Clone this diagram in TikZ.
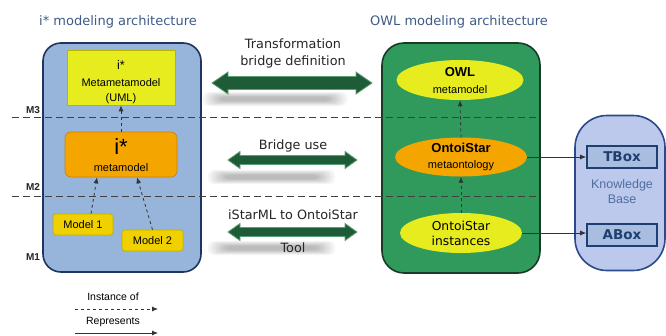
\documentclass[tikz,border=0pt]{standalone}
\usepackage{fontspec}
\setmainfont{Liberation Sans}
\newfontfamily\vfont{DejaVu Sans}
\usetikzlibrary{arrows.meta,shapes.geometric,calc}
\definecolor{boxblue}{HTML}{97B5DB}
\definecolor{navy}{HTML}{1F3560}
\definecolor{lime}{HTML}{E6EC1E}
\definecolor{limeedge}{HTML}{B8B400}
\definecolor{orng}{HTML}{F5A500}
\definecolor{orngedge}{HTML}{C88200}
\definecolor{gold}{HTML}{F0D000}
\definecolor{owlgreen}{HTML}{2F9A5C}
\definecolor{owledge}{HTML}{1A3A28}
\definecolor{kbfill}{HTML}{BCC8EC}
\definecolor{kbedge}{HTML}{2A4A8A}
\definecolor{tbfill}{HTML}{A8BDE0}
\definecolor{tbedge}{HTML}{1F3F70}
\definecolor{titleblue}{HTML}{3E5B88}
\definecolor{kbtext}{HTML}{4F6FA0}
\definecolor{arrgreen}{HTML}{1D5C36}
\definecolor{arredge}{HTML}{5E9E74}
\newcommand\dblarrow[6]{%
  \filldraw[fill=arrgreen, draw=arredge, line width=0.8pt, line join=miter]
    (#1,#3) -- ({#1+#6},{#3-#5}) -- ({#1+#6},{#3-#4}) -- ({#2-#6},{#3-#4})
    -- ({#2-#6},{#3-#5}) -- (#2,#3) -- ({#2-#6},{#3+#5}) -- ({#2-#6},{#3+#4})
    -- ({#1+#6},{#3+#4}) -- ({#1+#6},{#3+#5}) -- cycle;}
\newcommand\shadowbar[4]{%
  \foreach \i in {0,...,7}{
    \fill[black, opacity=0.035, rounded corners=5pt]
      ({#1+\i*2.5},{#3+\i*0.7}) rectangle ({#2-\i*2.5},{#4-\i*0.7});}}
\tikzset{
  titletext/.style={font=\vfont\fontsize{13}{15}\selectfont, text=titleblue},
  bridgetext/.style={font=\vfont\fontsize{12.8}{17}\selectfont, text=black!85, align=center},
  mlabel/.style={font=\bfseries\fontsize{10}{11}\selectfont, text=black!85},
  layerline/.style={draw=black!75, line width=0.9pt, dash pattern=on 7pt off 4pt},
  bigbox/.style={draw, line width=1.6pt, inner sep=0pt},
  modelbox/.style={fill=gold, draw=limeedge, line width=0.6pt, rounded corners=3pt,
    minimum width=60pt, minimum height=21pt, inner sep=0pt,
    font=\fontsize{11}{12}\selectfont},
  instof/.style={dashed, line width=0.8pt, draw=black!80, -{Latex[length=6pt,width=5pt]}},
  repr/.style={line width=0.8pt, draw=black!80, -{Latex[length=6pt,width=5pt]}},
  ell/.style={ellipse, inner sep=0pt, draw=none},
  kbsub/.style={fill=tbfill, draw=tbedge, line width=1.6pt, minimum width=70pt,
    minimum height=22pt, inner sep=0pt, text=tbedge,
    font=\vfont\bfseries\fontsize{13.5}{15}\selectfont},
  legtext/.style={font=\fontsize{10.5}{12}\selectfont}
}
\begin{document}
\begin{tikzpicture}[x=1pt,y=-1pt]
\useasboundingbox (0,0) rectangle (666,335);
\fill[white] (0,0) rectangle (666,335);

% titles
\node[titletext] (t1) at (118,22) {i* modeling architecture};
\node[titletext] (t2) at (459,22) {OWL modeling architecture};

% big boxes
\node[bigbox, draw=navy, fill=boxblue, rounded corners=18pt,
      minimum width=158pt, minimum height=229pt] (ibox) at (122,157.5) {};
\node[bigbox, draw=owledge, fill=owlgreen, rounded corners=22pt,
      minimum width=158pt, minimum height=230pt] (owlbox) at (461,158) {};
\node[bigbox, draw=kbedge, fill=kbfill, rounded corners=32pt,
      minimum width=90pt, minimum height=155pt] (kb) at (620,193) {};

% layer lines
\draw[layerline] (12,117) -- (540,117);
\draw[layerline] (12,196) -- (540,196);
\node[mlabel] (m3) at (33,110) {M3};
\node[mlabel] (m2l) at (33,187) {M2};
\node[mlabel] (m1l) at (33,257) {M1};

% i* side
\node[fill=lime, draw=limeedge, line width=0.6pt, minimum width=108pt,
      minimum height=55pt, inner sep=0pt] (mmm) at (121,77.5) {};
\node[font=\fontsize{12.5}{12}\selectfont] (mmmi) at (121,65) {i*};
\node[font=\fontsize{11}{12}\selectfont] (mmmt) at (121,83) {Metametamodel};
\node[font=\fontsize{11}{12}\selectfont] (mmmu) at (121,98.5) {(UML)};

\node[fill=orng, draw=orngedge, line width=0.6pt, rounded corners=6pt,
      minimum width=112pt, minimum height=45pt, inner sep=0pt] (imm) at (121,154.5) {};
\node[font=\fontsize{22}{22}\selectfont] (immi) at (121,147) {i*};
\node[font=\fontsize{11}{12}\selectfont] (immt) at (121,168) {metamodel};

\node[modelbox] (mod1) at (83,224.5) {Model 1};
\node[modelbox, minimum width=61pt] (mod2) at (152.5,240.5) {Model 2};

\draw[instof] (imm.north) -- (mmm.south);
\draw[instof] ([xshift=8pt]mod1.north) -- ([xshift=-24pt]imm.south);
\draw[instof] (mod2.north) -- ([xshift=16pt]imm.south);

% OWL side
\node[ell, fill=lime, minimum width=127pt, minimum height=40pt] (owl) at (460,80) {};
\node[font=\bfseries\fontsize{13}{14}\selectfont] (owlt) at (460,72) {OWL};
\node[font=\fontsize{11}{12}\selectfont] (owlm) at (460,90) {metamodel};

\node[ell, fill=orng, minimum width=132pt, minimum height=39pt] (onto) at (461,157) {};
\node[font=\bfseries\fontsize{13}{14}\selectfont] (ontot) at (461,148) {OntoiStar};
\node[font=\fontsize{11}{12}\selectfont] (ontom) at (461,166) {metaontology};

\node[ell, fill=lime, minimum width=122pt, minimum height=40pt] (inst) at (461,233) {};
\node[font=\vfont\fontsize{12.3}{14.5}\selectfont, align=center] (instt) at (461,233.5) {OntoiStar\\instances};

\draw[instof] (onto.north) -- (owl.south);
\draw[instof] (inst.north) -- (onto.south);

% knowledge base
\node[kbsub] (tbox) at (622,157) {TBox};
\node[kbsub] (abox) at (622,235) {ABox};
\node[font=\fontsize{12.5}{15}\selectfont, text=kbtext, align=center] (kbt) at (622,192) {Knowledge\\Base};

\draw[repr] (onto.east) -- (onto.east -| tbox.west);
\draw[repr] (inst.east) -- (inst.east -| abox.west);

% bridge arrows
\shadowbar{203}{347}{92}{106}
\shadowbar{208}{335}{170}{184}
\shadowbar{208}{335}{241}{255}
\dblarrow{212}{372}{83}{6.5}{11}{16}
\dblarrow{228}{357}{160}{4.5}{8.5}{12}
\dblarrow{228}{357}{232}{4.5}{8.5}{12}
\node[bridgetext] (b1) at (293,53.5) {Transformation\\bridge definition};
\node[bridgetext] (b2) at (293,146) {Bridge use};
\node[bridgetext] (b3) at (293,215) {iStarML to OntoiStar};
\node[bridgetext] (b4) at (293,248) {Tool};

% legend
\node[legtext] (lg1) at (113,297) {Instance of};
\node[legtext] (lg2) at (113,322) {Represents};
\coordinate (la1) at (75,309);
\coordinate (la2) at (158,309);
\coordinate (lb1) at (75,333);
\coordinate (lb2) at (158,333);
\draw[instof] (la1) -- (la2);
\draw[repr] (lb1) -- (lb2);
\end{tikzpicture}
\end{document}
